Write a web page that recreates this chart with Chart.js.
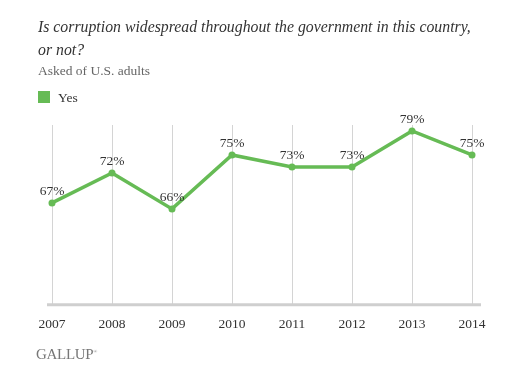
<!DOCTYPE html>
<html>
<head>
<meta charset="utf-8">
<script src="https://cdn.jsdelivr.net/npm/chart.js@4.4.1/dist/chart.umd.min.js"></script>
<style>
  html,body{margin:0;padding:0;background:#fff;}
  #wrap{position:relative;width:525px;height:379px;overflow:hidden;font-family:"Liberation Serif","DejaVu Serif",serif;}
  #c{position:absolute;left:0;top:0;}
  .t{position:absolute;white-space:nowrap;}
  #title{left:38px;top:15px;font-style:italic;font-size:15.8px;line-height:23px;color:#333;}
  #sub{left:38px;top:63px;font-size:13.5px;color:#666;}
  #leg{left:38px;top:90px;font-size:13.5px;color:#333;}
  #leg span.sw{display:inline-block;width:12px;height:12px;background:#66bb55;vertical-align:-1px;margin-right:8px;}
  #brand{left:36px;top:346px;font-size:15px;color:#777;letter-spacing:-0.3px;}
  #brand sup{font-size:5px;}
</style>
</head>
<body>
<div id="wrap">
  <canvas id="c" width="525" height="379"></canvas>
  <div class="t" id="title">Is corruption widespread throughout the government in this country,<br>or not?</div>
  <div class="t" id="sub">Asked of U.S. adults</div>
  <div class="t" id="leg"><span class="sw"></span>Yes</div>
  <div class="t" id="brand">GALLUP<sup>®</sup></div>
</div>
<script>
const years = ["2007","2008","2009","2010","2011","2012","2013","2014"];
const yesValues = [67, 72, 66, 75, 73, 73, 79, 75];
const yMin = 50, yMax = 80;

const labelPlugin = {
  id: 'pctLabels',
  afterDatasetsDraw(chart) {
    const ctx = chart.ctx;
    const meta = chart.getDatasetMeta(0);
    ctx.save();
    ctx.font = '13.5px "Liberation Serif", serif';
    ctx.fillStyle = '#333';
    ctx.textAlign = 'center';
    ctx.textBaseline = 'bottom';
    meta.data.forEach((pt, i) => {
      ctx.fillText(yesValues[i] + '%', pt.x, pt.y - 5);
    });
    ctx.restore();
  }
};
const axisLinePlugin = {
  id: 'axisLine',
  beforeDatasetsDraw(chart) {
    const a = chart.chartArea, ctx = chart.ctx;
    ctx.save();
    ctx.strokeStyle = '#cfcfcf';
    ctx.lineWidth = 3;
    ctx.beginPath();
    ctx.moveTo(a.left - 5, a.bottom);
    ctx.lineTo(a.right + 9, a.bottom);
    ctx.stroke();
    ctx.restore();
  }
};

new Chart(document.getElementById('c'), {
  type: 'line',
  data: {
    labels: years,
    datasets: [{
      label: 'Yes',
      data: yesValues,
      borderColor: '#66bb55',
      backgroundColor: '#66bb55',
      borderWidth: 3.5,
      pointRadius: 3.5,
      pointBackgroundColor: '#66bb55',
      pointBorderWidth: 0,
      tension: 0,
      clip: false
    }]
  },
  options: {
    responsive: false,
    animation: false,
    layout: { padding: { left: 52, right: 53, top: 125, bottom: 34 } },
    plugins: { legend: { display: false }, title: { display: false }, tooltip: { enabled: false } },
    scales: {
      x: {
        offset: false,
        grid: { display: true, color: '#d4d4d4', lineWidth: 1, drawTicks: false },
        border: { display: false },
        ticks: { color: '#333', font: { family: '"Liberation Serif", serif', size: 13.5 }, padding: 12, maxRotation: 0 }
      },
      y: {
        display: false,
        min: yMin,
        max: yMax
      }
    }
  },
  plugins: [axisLinePlugin, labelPlugin]
});
</script>
</body>
</html>
